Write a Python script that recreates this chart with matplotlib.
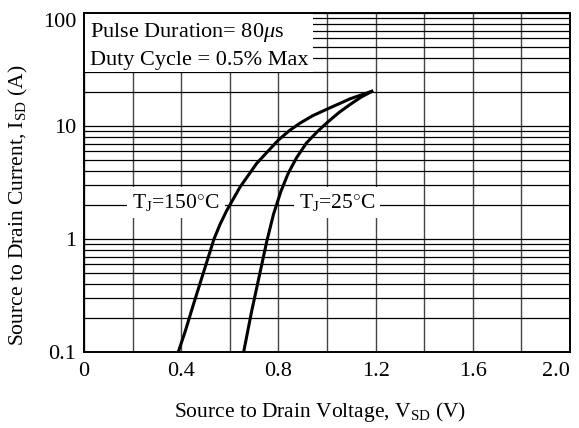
import matplotlib
matplotlib.use("Agg")
import matplotlib.pyplot as plt
from matplotlib.patches import Rectangle
from matplotlib.ticker import FixedLocator, LogLocator, NullFormatter, FixedFormatter

plt.rcParams['font.family'] = ['Liberation Serif', 'DejaVu Serif']
plt.rcParams['mathtext.fontset'] = 'custom'
plt.rcParams['mathtext.rm'] = 'Liberation Serif'
plt.rcParams['mathtext.it'] = 'Liberation Serif:italic'

# Data
v_150 = [0.388, 0.416, 0.447, 0.491, 0.535, 0.560, 0.587, 0.642, 0.711, 0.800, 0.845, 0.889, 0.940, 1.000, 1.095, 1.190]
i_150 = [0.10, 0.151, 0.25, 0.50, 1.00, 1.35, 1.78, 2.88, 4.68, 7.52, 9.1, 10.6, 12.3, 14.1, 17.4, 20.5]
v_25 = [0.657, 0.690, 0.724, 0.752, 0.780, 0.810, 0.840, 0.875, 0.916, 0.960, 1.000, 1.050, 1.095, 1.140, 1.190]
i_25 = [0.10, 0.23, 0.50, 0.95, 1.66, 2.63, 3.80, 5.25, 7.10, 8.90, 10.7, 13.2, 15.5, 18.0, 20.5]

x_ticks = [0, 0.4, 0.8, 1.2, 1.6, 2.0]
x_tick_labels = ["0", "0.4", "0.8", "1.2", "1.6", "2.0"]
y_ticks = [0.1, 1, 10, 100]
y_tick_labels = ["0.1", "1", "10", "100"]

fig = plt.figure(figsize=(5.79, 4.28), dpi=100)
ax = fig.add_axes([84/579, 1-352/428, (570-84)/579, (352-13)/428])
ax.set_yscale('log')
ax.set_xlim(0, 2.0)
ax.set_ylim(0.1, 100)

ax.xaxis.set_major_locator(FixedLocator(x_ticks))
ax.xaxis.set_major_formatter(FixedFormatter(x_tick_labels))
ax.xaxis.set_minor_locator(FixedLocator([0.2, 0.6, 1.0, 1.4, 1.8]))
ax.yaxis.set_major_locator(FixedLocator(y_ticks))
ax.yaxis.set_major_formatter(FixedFormatter(y_tick_labels))
ax.yaxis.set_minor_locator(LogLocator(base=10, subs=range(2, 10)))
ax.yaxis.set_minor_formatter(NullFormatter())

ax.grid(True, which='both', axis='y', color='black', lw=0.9)
ax.grid(True, which='both', axis='x', color='#444444', lw=1.0)
ax.tick_params(which='both', length=0, labelsize=16, colors='black')
ax.tick_params(axis='x', pad=7)
ax.tick_params(axis='y', pad=5.5)
for s in ax.spines.values():
    s.set_linewidth(1.4)
    s.set_zorder(5)

ax.xaxis.get_major_ticks()[-1].label1.set_horizontalalignment('right')
ax.yaxis.get_major_ticks()[-1].label1.set_verticalalignment('top')

ax.plot(v_150, i_150, color='black', lw=2.2, zorder=4, solid_capstyle='butt', solid_joinstyle='round')
ax.plot(v_25, i_25, color='black', lw=2.2, zorder=4, solid_capstyle='butt', solid_joinstyle='round')

# condition box
box_bottom = (352-72)/339
ax.add_patch(Rectangle((0, box_bottom), (313-84)/486, 1-box_bottom, transform=ax.transAxes,
                       facecolor='white', edgecolor='none', zorder=3))
ax.text(6/486, 1-20/339, "Pulse Duration= 80$\\mu$s", transform=ax.transAxes, fontsize=16,
        ha='left', va='center', zorder=6)
ax.text(6/486, 1-47/339, "Duty Cycle = 0.5% Max", transform=ax.transAxes, fontsize=16,
        ha='left', va='center', zorder=6)

bb = dict(facecolor='white', edgecolor='none', pad=3.5)
ax.text(0.379, 2.1, "T$_\\mathrm{J}$=150$^{\\circ}$C", fontsize=15.5, ha='center', va='center',
        bbox=bb, zorder=3.5)
ax.text(1.041, 2.1, "T$_\\mathrm{J}$=25$^{\\circ}$C", fontsize=15.5, ha='center', va='center',
        bbox=bb, zorder=3.5)

fig.text(320/579, 1-412/428, "Source to Drain Voltage, V$_\\mathrm{SD}$ (V)", fontsize=15.5,
         ha='center', va='center')
fig.text(18/579, 1-205/428, "Source to Drain Current, I$_\\mathrm{SD}$ (A)", fontsize=15.5,
         ha='center', va='center', rotation=90)

fig.savefig("out.png", dpi=100)
